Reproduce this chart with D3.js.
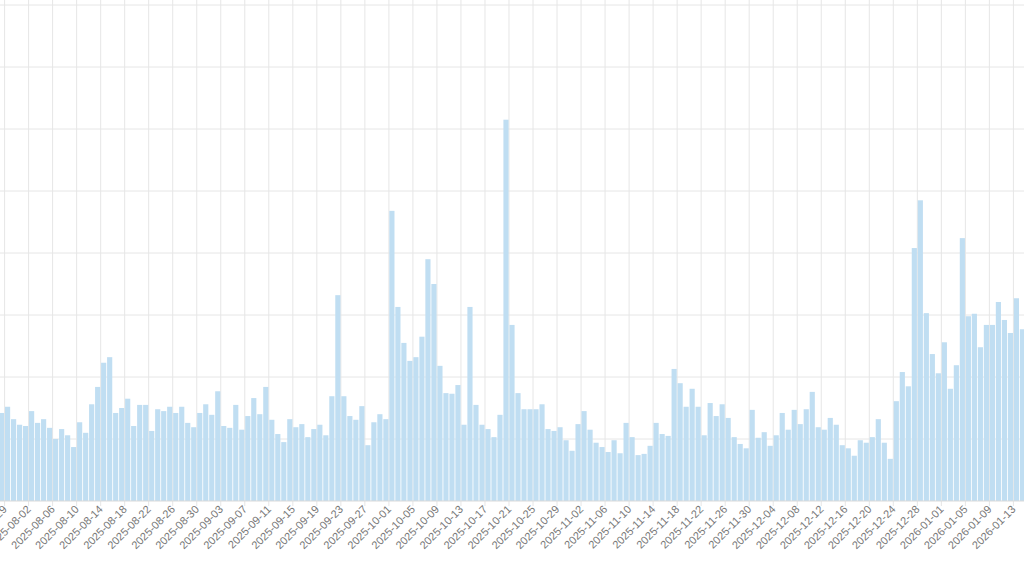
<!DOCTYPE html>
<html>

<head>
    <meta charset="UTF-8">
    <style>
        body { margin: 0; background: #fff; }
    </style>
</head>

<body>
    <script src="https://d3js.org/d3.v7.min.js"></script>
    <div id="chart"></div>
    <script>
        // first day of the series, one bar per day
        const startDate = "2025-07-29";

        // bar top pixel rows, turned into values below
        const tops = [
            413, 407, 419, 425, 426, 411, 423, 419, 428, 439, 429, 435, 447, 422, 433, 404, 387, 363, 357, 413,
            408, 399, 426, 405, 405, 431, 409, 411, 407, 413, 407, 423, 427, 413, 404, 415, 391, 426, 428, 405,
            430, 416, 398, 414, 387, 420, 434, 442, 419, 427, 424, 437, 429, 425, 435, 396, 295, 396, 416, 420,
            406, 445, 422, 414, 419, 211, 307, 343, 361, 357, 337, 259, 284, 366, 393, 394, 385, 425, 307, 405,
            425, 429, 437, 415, 120, 325, 393, 409, 409, 409, 404, 429, 431, 427, 440, 451, 424, 411, 430, 443,
            447, 452, 440, 453, 423, 437, 455, 454, 446, 423, 434, 436, 369, 383, 407, 389, 407, 435, 403, 416,
            404, 418, 437, 444, 448, 410, 438, 432, 446, 435, 413, 430, 410, 424, 409, 392, 427, 430, 418, 425,
            445, 448, 456, 440, 443, 437, 419, 443, 459, 401, 372, 386, 248, 200, 313, 354, 373, 342, 389, 365,
            238, 316, 314, 347, 325, 325, 302, 320, 333, 298, 329
        ];
        const values = tops.map(t => Math.round((501 - t) / 6.2 * 10) / 10);

        const parse = d3.timeParse("%Y-%m-%d");
        const fmt = d3.timeFormat("%Y-%m-%d");
        const dates = values.map((v, i) => fmt(d3.timeDay.offset(parse(startDate), i)));
        const tickLabels = dates.filter((d, i) => i % 4 === 0);

        const width = 1024, height = 576;
        const svg = d3.select("#chart")
            .append("svg")
            .attr("width", width)
            .attr("height", height);

        const x = d3.scaleBand()
            .domain(dates)
            .range([-1, -1 + dates.length * 6.0])
            .paddingInner(0.14)
            .paddingOuter(0);

        const y = d3.scaleLinear()
            .domain([0, 80])
            .range([501, 5]);

        // horizontal grid
        svg.append("g")
            .selectAll("line")
            .data(d3.range(10, 81, 10))
            .enter()
            .append("line")
            .attr("x1", 0).attr("x2", width)
            .attr("y1", d => y(d)).attr("y2", d => y(d))
            .attr("stroke", "#e6e6e6");

        // vertical grid at tick positions
        svg.append("g")
            .selectAll("line")
            .data(tickLabels)
            .enter()
            .append("line")
            .attr("x1", d => x(d) + x.bandwidth() / 2 + 3)
            .attr("x2", d => x(d) + x.bandwidth() / 2 + 3)
            .attr("y1", 0).attr("y2", 506)
            .attr("stroke", "#e6e6e6");

        // bars
        svg.selectAll("rect.bar")
            .data(values)
            .enter()
            .append("rect")
            .attr("class", "bar")
            .attr("x", (d, i) => x(dates[i]))
            .attr("y", d => y(d))
            .attr("width", x.bandwidth())
            .attr("height", d => y(0) - y(d))
            .attr("fill", "#c0def2");

        // baseline
        svg.append("line")
            .attr("x1", 0).attr("x2", width)
            .attr("y1", y(0)).attr("y2", y(0))
            .attr("stroke", "#d9d9d9");

        // x axis labels
        svg.append("g")
            .selectAll("text")
            .data(tickLabels)
            .enter()
            .append("text")
            .attr("transform", d => `translate(${x(d) + x.bandwidth() / 2 + 6}, 510) rotate(-45)`)
            .attr("text-anchor", "end")
            .attr("font-family", "Helvetica, Arial, sans-serif")
            .attr("font-size", "11px")
            .attr("fill", "#777")
            .text(d => d);
    </script>
</body>

</html>
